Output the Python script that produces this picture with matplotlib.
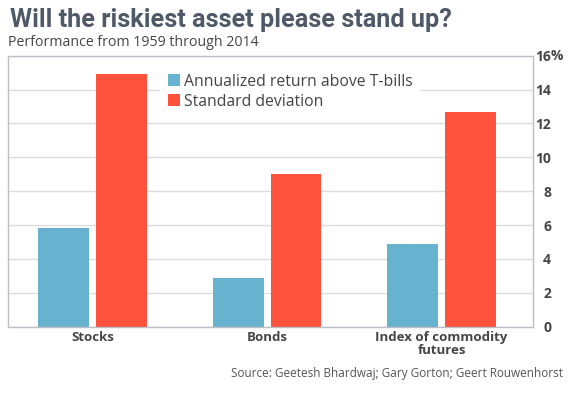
import matplotlib.pyplot as plt
import matplotlib.transforms as transforms
from matplotlib.patches import Patch
import numpy as np

# Data
categories = ["Stocks", "Bonds", "Index of commodity\nfutures"]
annual_return = [5.8, 2.9, 4.9]
std_dev = [14.9, 9.0, 12.7]
y_ticks = [0, 2, 4, 6, 8, 10, 12, 14, 16]
y_tick_labels = ["0", "2", "4", "6", "8", "10", "12", "14", "16"]

blue = "#66b2cf"
red = "#ff523c"
text_dark = "#454545"
title_color = "#4f5968"

fig = plt.figure(figsize=(5.69, 3.98), dpi=100)
ax = fig.add_axes([8 / 569, 71.3 / 398, 525 / 569, 271 / 398])

x = np.arange(len(categories))
w = 0.29
ax.bar(x - 0.165, annual_return, width=w, color=blue, zorder=2)
ax.bar(x + 0.165, std_dev, width=w, color=red, zorder=2)

ax.set_xlim(-0.484, 2.524)
ax.set_ylim(0, 16)

# Grid and frame
ax.set_axisbelow(True)
ax.yaxis.grid(True, color="#dcdde1", linewidth=1)
for side in ["left", "top", "right", "bottom"]:
    ax.spines[side].set_color("#bcbfc6")
    ax.spines[side].set_linewidth(1)

# Right-hand y axis labels
ax.yaxis.tick_right()
ax.set_yticks(y_ticks)
ax.set_yticklabels(y_tick_labels, fontsize=10, fontweight="bold", color=text_dark, family="Open Sans")
ax.tick_params(axis="y", length=0, pad=13)
for lbl in ax.get_yticklabels():
    lbl.set_horizontalalignment("right")
trans = transforms.blended_transform_factory(fig.transFigure, ax.transData)
fig.text(551 / 569, 16, "%", transform=trans, ha="left", va="center",
         fontsize=10, fontweight="bold", color=text_dark, family="Open Sans")

ax.set_xticks(x)
ax.set_xticklabels(categories, fontsize=9.5, fontweight="bold", color=text_dark,
                   family="Open Sans", linespacing=1.0)
ax.tick_params(axis="x", length=0, pad=3)

# Legend
handles = [Patch(facecolor=blue, edgecolor="none"), Patch(facecolor=red, edgecolor="none")]
leg = ax.legend(handles, ["Annualized return above T-bills", "Standard deviation"],
                loc="upper left", bbox_to_anchor=(160 / 569, (398 - 66) / 398),
                bbox_transform=fig.transFigure, frameon=True, fancybox=False,
                facecolor="white", edgecolor="none", framealpha=1,
                prop={"family": "Open Sans", "size": 11.3}, handlelength=0.8,
                handleheight=0.8, handletextpad=0.2, labelspacing=0.25,
                borderpad=0.5, borderaxespad=0)
for t in leg.get_texts():
    t.set_color(text_dark)

# Titles and source
fig.text(10 / 569, 1 - 20 / 398, "Will the riskiest asset please stand up?", ha="left", va="center",
         fontsize=18.2, fontweight="bold", color=title_color, family="Roboto")
fig.text(8 / 569, 1 - 42 / 398, "Performance from 1959 through 2014", ha="left", va="center",
         fontsize=10.2, color=text_dark, family="Open Sans")
fig.text(563 / 569, 1 - 373 / 398, "Source: Geetesh Bhardwaj; Gary Gorton; Geert Rouwenhorst",
         ha="right", va="center", fontsize=8.5, color="#555555", family="Open Sans")

fig.savefig("out.png", dpi=100)
